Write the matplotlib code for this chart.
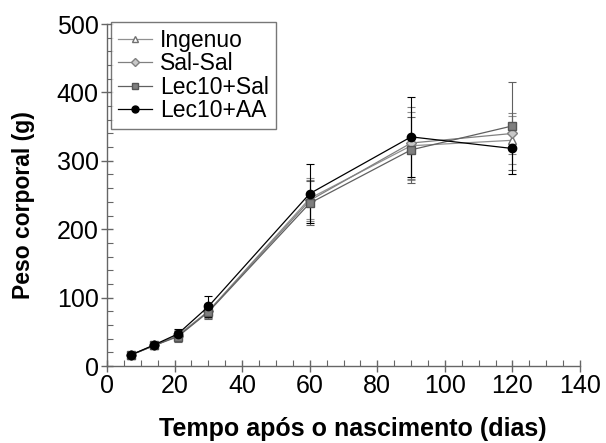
import matplotlib
matplotlib.use("Agg")
import matplotlib.pyplot as plt
from matplotlib.lines import Line2D
from matplotlib.ticker import MultipleLocator

plt.rcParams['font.family'] = ['Liberation Sans', 'DejaVu Sans']

# days after birth
dias = [7, 14, 21, 30, 60, 90, 120]

ingenuo = [16, 30, 45, 80, 245, 322, 330]
ingenuo_sd = [4, 4, 7, 10, 30, 50, 35]

sal_sal = [16, 30, 44, 80, 242, 326, 340]
sal_sal_sd = [4, 4, 7, 10, 30, 52, 30]

lec_sal = [16, 30, 43, 79, 238, 316, 351]
lec_sal_sd = [4, 4, 8, 11, 32, 48, 64]

lec_aa = [16, 31, 47, 87, 252, 335, 318]
lec_aa_sd = [4, 4, 7, 15, 43, 58, 38]

series = [
    ("Ingenuo", ingenuo, ingenuo_sd, dict(marker='^', mfc='white', mec='#707070', color='#909090', ms=6)),
    ("Sal-Sal", sal_sal, sal_sal_sd, dict(marker='D', mfc='#c8c8c8', mec='#808080', color='#808080', ms=5.5)),
    ("Lec10+Sal", lec_sal, lec_sal_sd, dict(marker='s', mfc='#7f7f7f', mec='#555555', color='#606060', ms=6)),
    ("Lec10+AA", lec_aa, lec_aa_sd, dict(marker='o', mfc='black', mec='black', color='black', ms=6)),
]

fig = plt.figure(figsize=(6.06, 4.43), dpi=100)
ax = fig.add_axes([0.1766, 0.1738, 0.7805, 0.772])

handles = []
for name, vals, sd, st in series:
    ax.errorbar(dias, vals, yerr=sd, lw=0.9, elinewidth=0.8,
                capsize=3, capthick=0.8, ecolor=st['color'], **st)
    h = dict(st)
    h['ms'] = st['ms'] - 1
    handles.append(Line2D([], [], lw=0.9, label=name, **h))

ax.set_xlim(0, 140)
ax.set_ylim(0, 500)
ax.xaxis.set_major_locator(MultipleLocator(20))
ax.xaxis.set_minor_locator(MultipleLocator(5))
ax.yaxis.set_major_locator(MultipleLocator(100))
ax.yaxis.set_minor_locator(MultipleLocator(20))

for s in ['top', 'right']:
    ax.spines[s].set_visible(False)
for s in ['left', 'bottom']:
    ax.spines[s].set_color('#666666')
    ax.spines[s].set_linewidth(1)

ax.tick_params(which='major', direction='inout', length=8, width=1, color='#666666',
               labelsize=18, pad=2)
ax.tick_params(which='minor', direction='in', length=4, width=0.8, color='#666666')

ax.set_xlabel("Tempo após o nascimento (dias)", fontsize=18, fontweight='bold')
ax.xaxis.set_label_coords(0.52, -0.15)
ax.set_ylabel("Peso corporal (g)", fontsize=16.5, fontweight='bold')
ax.yaxis.set_label_coords(-0.152, 0.47)

leg = ax.legend(handles=handles, loc='upper left', bbox_to_anchor=(0.0085, 1.006), fontsize=16.5,
                frameon=True, fancybox=False, edgecolor='#555555',
                handlelength=1.5, handletextpad=0.35, labelspacing=0.02,
                borderpad=0.3, borderaxespad=0)
leg.get_frame().set_linewidth(1)

fig.savefig("out.png", dpi=100)
